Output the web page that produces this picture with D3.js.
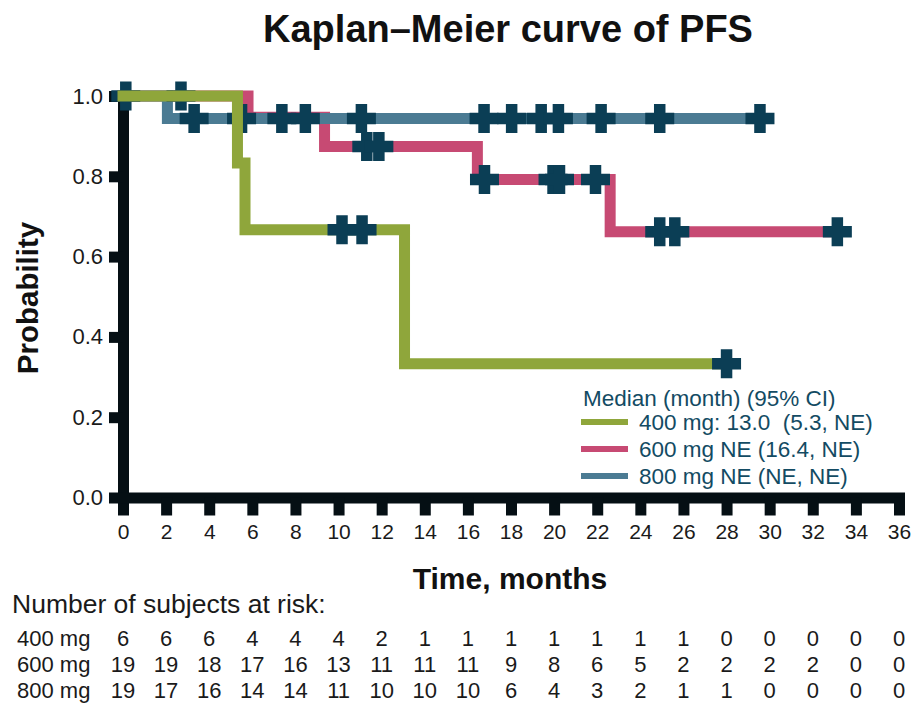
<!DOCTYPE html>
<html>
<head>
<meta charset="utf-8">
<script src="https://cdn.jsdelivr.net/npm/d3@7"></script>
<style>
  html, body { margin: 0; padding: 0; background: #fff; }
  svg { display: block; font-family: "Liberation Sans", Arial, Helvetica, sans-serif; }
</style>
</head>
<body>
<svg id="chart" width="916" height="705"></svg>
<script>
// ---- data -------------------------------------------------------------
const groups = ["400 mg", "600 mg", "800 mg"];
const legendLabels = ["400 mg: 13.0  (5.3, NE)", "600 mg NE (16.4, NE)", "800 mg NE (NE, NE)"];

// Kaplan–Meier step curves: event times (months) and survival after each step
const steps400 = [0, 5.31, 5.66, 13.06, 28.0];
const surv400  = [1, 0.833, 0.667, 0.333, 0.333];
const steps600 = [0, 5.8, 9.35, 16.44, 22.6, 33.14];
const surv600  = [1, 0.947, 0.874, 0.792, 0.662, 0.662];
const steps800 = [0, 2.06, 29.55];
const surv800  = [1, 0.944, 0.944];

// censoring times (months)
const censor400 = [10.16, 11.09, 28.0];
const censor600 = [2.69, 11.31, 11.87, 16.77, 19.95, 20.25, 21.92, 24.9, 25.6, 33.14];
const censor800 = [0.13, 3.3, 5.5, 7.37, 8.46, 11.06, 16.75, 18.03, 19.4, 20.2, 22.18, 24.9, 29.55];

// axis ticks
const xTickValues = [0, 2, 4, 6, 8, 10, 12, 14, 16, 18, 20, 22, 24, 26, 28, 30, 32, 34, 36];
const yTickValues = [0, 0.2, 0.4, 0.6, 0.8, 1.0];

// number of subjects at risk at each x tick
const atRisk400 = [6, 6, 6, 4, 4, 4, 2, 1, 1, 1, 1, 1, 1, 1, 0, 0, 0, 0, 0];
const atRisk600 = [19, 19, 18, 17, 16, 13, 11, 11, 11, 9, 8, 6, 5, 2, 2, 2, 2, 0, 0];
const atRisk800 = [19, 17, 16, 14, 14, 11, 10, 10, 10, 6, 4, 3, 2, 1, 1, 0, 0, 0, 0];

// ---- styling ----------------------------------------------------------
const colors = { "400 mg": "#8fa63b", "600 mg": "#c74a73", "800 mg": "#4b7b93" };
const censorColor = "#0b3e55";
const axisColor = "#050f14";
const textColor = "#1a1a1a";
const legendColor = "#134b63";

const svg = d3.select("#chart");

const x = d3.scaleLinear().domain([0, 36]).range([123, 899]);
const y = d3.scaleLinear().domain([0, 1]).range([497.5, 96]);

// title
svg.append("text")
  .attr("x", 508).attr("y", 42)
  .attr("text-anchor", "middle")
  .attr("font-size", 38).attr("font-weight", "bold").attr("fill", "#111")
  .text("Kaplan–Meier curve of PFS");

// axes
const xAxis = d3.axisBottom(x).tickValues(xTickValues).tickSize(18).tickSizeOuter(0).tickPadding(9);
const yAxis = d3.axisLeft(y).tickValues(yTickValues).tickSize(14).tickSizeOuter(0).tickPadding(6)
  .tickFormat(d3.format(".1f"));

function styleAxis(g, fontSize) {
  g.select(".domain").attr("stroke", axisColor).attr("stroke-width", 11).attr("stroke-linecap", "square");
  g.selectAll(".tick line").attr("stroke", axisColor).attr("stroke-width", 11);
  g.selectAll(".tick text").attr("fill", textColor).attr("font-size", fontSize)
    .attr("font-family", "'Liberation Sans', Arial, Helvetica, sans-serif");
}

svg.append("g").attr("transform", `translate(0,${y(0)})`).call(xAxis).call(styleAxis, 21);
svg.append("g").attr("transform", `translate(${x(0)},0)`).call(yAxis).call(styleAxis, 22);

// axis titles
svg.append("text")
  .attr("x", 510).attr("y", 589)
  .attr("text-anchor", "middle")
  .attr("font-size", 30).attr("font-weight", "bold").attr("fill", "#111")
  .text("Time, months");

svg.append("text")
  .attr("transform", "translate(38,298) rotate(-90)")
  .attr("text-anchor", "middle")
  .attr("font-size", 29.5).attr("font-weight", "bold").attr("fill", "#111")
  .text("Probability");

// curves
const curves = {
  "400 mg": { t: steps400, s: surv400, c: censor400 },
  "600 mg": { t: steps600, s: surv600, c: censor600 },
  "800 mg": { t: steps800, s: surv800, c: censor800 }
};

function survAt(curve, t) {
  let v = curve.s[0];
  for (let i = 0; i < curve.t.length; i++) if (curve.t[i] <= t) v = curve.s[i];
  return v;
}

const line = d3.line().x(d => x(d[0])).y(d => y(d[1])).curve(d3.curveStepAfter);
const plusPath = "M-14.5,0H14.5M0,-14.5V14.5";

function drawLine(name) {
  const c = curves[name];
  svg.append("path")
    .datum(c.t.map((t, i) => [t, c.s[i]]))
    .attr("d", line)
    .attr("fill", "none")
    .attr("stroke", colors[name])
    .attr("stroke-width", 11)
    .attr("stroke-linecap", "square");
}

function drawCensors(name) {
  const c = curves[name];
  svg.append("g").selectAll("path")
    .data(c.c)
    .join("path")
    .attr("transform", t => `translate(${x(t)},${y(survAt(c, t))})`)
    .attr("d", plusPath)
    .attr("fill", "none")
    .attr("stroke", censorColor)
    .attr("stroke-width", 11.5);
}

drawLine("600 mg");
drawLine("800 mg");
drawCensors("600 mg");
drawCensors("800 mg");
drawLine("400 mg");
drawCensors("400 mg");

// legend
const legend = svg.append("g");
legend.append("text")
  .attr("x", 583).attr("y", 406)
  .attr("font-size", 22.5).attr("fill", legendColor)
  .text("Median (month) (95% CI)");
const legendY = [422, 449, 476];
groups.forEach((g, i) => {
  legend.append("line")
    .attr("x1", 581).attr("x2", 628)
    .attr("y1", legendY[i]).attr("y2", legendY[i])
    .attr("stroke", colors[g]).attr("stroke-width", 6);
  legend.append("text")
    .attr("x", 639).attr("y", legendY[i] + 8)
    .attr("font-size", 22.5).attr("fill", legendColor)
    .style("white-space", "pre")
    .text(legendLabels[i]);
});

// number at risk table
svg.append("text")
  .attr("x", 12).attr("y", 613)
  .attr("font-size", 26.5).attr("fill", textColor)
  .text("Number of subjects at risk:");

const riskRows = [atRisk400, atRisk600, atRisk800];
const rowY = [646, 672, 698];
riskRows.forEach((row, r) => {
  svg.append("text")
    .attr("x", 17).attr("y", rowY[r])
    .attr("font-size", 22).attr("fill", textColor)
    .text(groups[r]);
  svg.append("g").selectAll("text")
    .data(row)
    .join("text")
    .attr("x", (d, i) => x(xTickValues[i]))
    .attr("y", rowY[r])
    .attr("text-anchor", "middle")
    .attr("font-size", 22).attr("fill", textColor)
    .text(d => d);
});
</script>
</body>
</html>
